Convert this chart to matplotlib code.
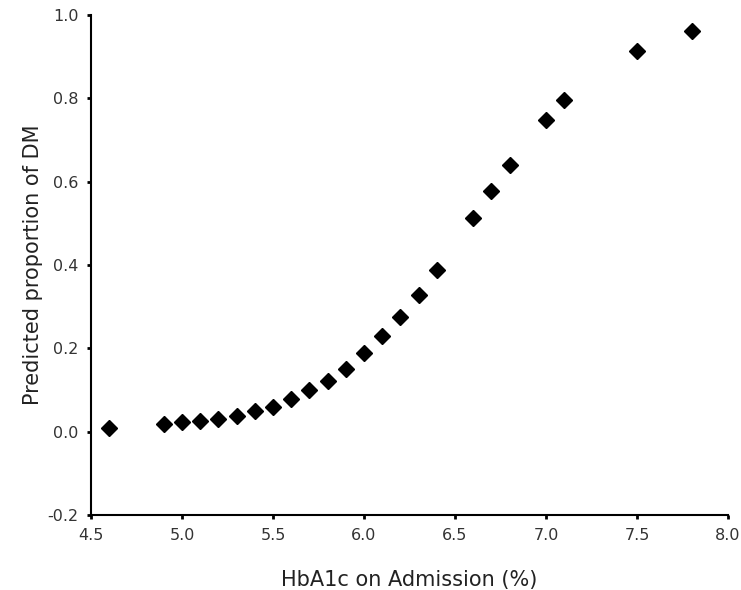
import numpy as np
import matplotlib
matplotlib.use("Agg")
import matplotlib.pyplot as plt

# --- data --- #
hba1c = [4.6, 4.9, 5.0, 5.1, 5.2, 5.3, 5.4, 5.5, 5.6, 5.7, 5.8, 5.9,
         6.0, 6.1, 6.2, 6.3, 6.4, 6.6, 6.7, 6.8, 7.0, 7.1, 7.5, 7.8]
prop_dm = [0.008, 0.019, 0.022, 0.025, 0.031, 0.038, 0.050, 0.060, 0.079,
           0.100, 0.122, 0.150, 0.188, 0.230, 0.276, 0.329, 0.388, 0.513,
           0.578, 0.640, 0.748, 0.796, 0.914, 0.962]

xticks = [4.5, 5.0, 5.5, 6.0, 6.5, 7.0, 7.5, 8.0]
yticks = [-0.2, 0.0, 0.2, 0.4, 0.6, 0.8, 1.0]

# --- figure --- #
fig = plt.figure(figsize=(7.41, 5.90), dpi=100)
ax = fig.add_axes([91/741, 1 - 515/590, (728 - 91)/741, (515 - 15)/590])

ax.plot(hba1c, prop_dm, linestyle="none", marker="D", markersize=8.5,
        color="black", clip_on=False)

ax.set_xlim(4.5, 8.0)
ax.set_ylim(-0.2, 1.0)
ax.set_xticks(xticks)
ax.set_yticks(yticks)
ax.set_xticklabels(["{:.1f}".format(v) for v in xticks])
ax.set_yticklabels(["{:.1f}".format(v) for v in yticks])

for side in ["top", "right"]:
    ax.spines[side].set_visible(False)
for side in ["left", "bottom"]:
    ax.spines[side].set_linewidth(1.5)
ax.tick_params(direction="out", length=3, width=2, labelsize=11.5,
               labelcolor="#333333", pad=6)

ax.set_xlabel("HbA1c on Admission (%)", fontsize=15, labelpad=20, color="#222222")
ax.set_ylabel("Predicted proportion of DM", fontsize=15, labelpad=3, color="#222222")

fig.savefig("out.png", dpi=100)
